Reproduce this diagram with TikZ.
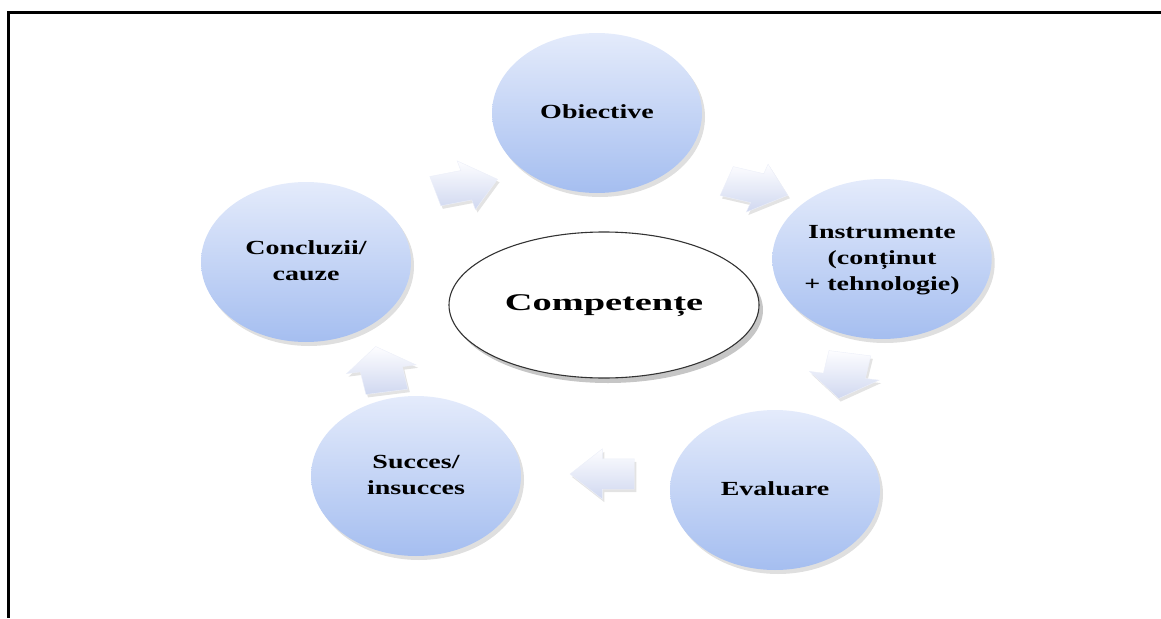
\documentclass[tikz,border=0pt]{standalone}
\usepackage{fontspec}
\setmainfont{Liberation Serif}
\usepackage{graphicx}
\usetikzlibrary{shapes.geometric,shapes.arrows,shadows,calc}
\definecolor{bublight}{RGB}{228,235,251}
\definecolor{bubdark}{RGB}{165,190,240}
\definecolor{arrlight}{RGB}{253,253,255}
\definecolor{arrdark}{RGB}{208,216,240}
\newcommand{\wtxt}[2][1.4]{\scalebox{#1}[1]{\begin{tabular}{@{}c@{}}#2\end{tabular}}}
\tikzset{
  bub/.style={ellipse, minimum width=210pt, minimum height=160pt, inner sep=0pt,
    top color=bublight, bottom color=bubdark, draw=none,
    drop shadow={shadow xshift=3pt, shadow yshift=-4pt, opacity=0.25},
    font=\fontsize{20}{26}\selectfont\bfseries},
  core/.style={ellipse, minimum width=310pt, minimum height=146pt, inner sep=0pt,
    draw=black!80, line width=1.1pt, fill=white,
    drop shadow={shadow xshift=4pt, shadow yshift=-5pt, opacity=0.45},
    font=\fontsize{24}{28}\selectfont\bfseries},
  cyc/.style={single arrow, transform shape, minimum height=46pt, inner sep=15pt,
    single arrow head extend=10pt, single arrow tip angle=95, draw=white!60!arrdark, line width=0.4pt,
    top color=arrlight, bottom color=arrdark,
    drop shadow={shadow xshift=2pt, shadow yshift=-3pt, opacity=0.22}},
  frame/.style={line width=3pt, black}
}
\begin{document}
\begin{tikzpicture}[x=1pt,y=1pt]
\useasboundingbox (0,0) rectangle (1161,-618);
\coordinate (ftl) at (8,-13);
\coordinate (ftr) at (1161,-13);
\coordinate (fbl) at (8,-618);
\draw[frame] (ftr) -- (ftl) -- (fbl);

\node[bub] (obi) at (597,-113) {\wtxt{Obiective}};
\node[bub] (ins) at (882,-259) {\wtxt{Instrumente\\(conținut\\+ tehnologie)}};
\node[bub] (eva) at (775,-490) {\wtxt{Evaluare}};
\node[bub] (suc) at (416,-476) {\wtxt{Succes/\\insucces}};
\node[bub] (con) at (306,-262) {\wtxt{Concluzii/\\cauze}};

\node[core] (comp) at (604,-305) {\wtxt[1.6]{Competențe}};

\begin{scope}[shift={(457,-187)}, xscale=1.4]
  \node[cyc, rotate=15] (a1) at (0,0) {};
\end{scope}
\begin{scope}[shift={(748,-186)}, xscale=1.4]
  \node[cyc, rotate=-18] (a2) at (0,0) {};
\end{scope}
\begin{scope}[shift={(846,-369)}, xscale=1.4]
  \node[cyc, rotate=-100] (a3) at (0,0) {};
\end{scope}
\begin{scope}[shift={(612,-474)}, xscale=1.4]
  \node[cyc, rotate=180] (a4) at (0,0) {};
\end{scope}
\begin{scope}[shift={(383,-376)}, xscale=1.4]
  \node[cyc, rotate=100] (a5) at (0,0) {};
\end{scope}
\end{tikzpicture}
\end{document}
